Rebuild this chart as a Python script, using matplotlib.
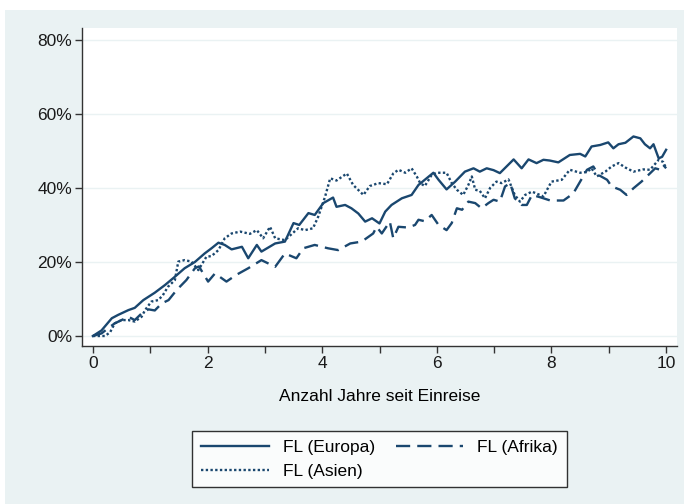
import matplotlib.pyplot as plt
from matplotlib.patches import Rectangle
from matplotlib.ticker import FuncFormatter

# Anteil (in %) nach Jahren seit Einreise
europa_x = [0, 0.15, 0.33, 0.44, 0.62, 0.73, 0.88, 1.08, 1.26, 1.43, 1.6, 1.78,
            1.95, 2.07, 2.19, 2.3, 2.42, 2.6, 2.71, 2.86, 2.94, 3.18, 3.35, 3.5,
            3.6, 3.76, 3.87, 4.02, 4.19, 4.25, 4.4, 4.51, 4.63, 4.75, 4.87, 5.0,
            5.1, 5.21, 5.39, 5.56, 5.68, 5.94, 6.03, 6.17, 6.32, 6.49, 6.64, 6.75,
            6.87, 6.99, 7.1, 7.34, 7.48, 7.6, 7.74, 7.86, 7.97, 8.12, 8.32, 8.5,
            8.59, 8.7, 8.85, 8.99, 9.08, 9.17, 9.29, 9.43, 9.55, 9.63, 9.72, 9.78,
            9.87, 9.93, 10.0]
europa_y = [0, 1.5, 4.8, 5.7, 7.0, 7.6, 9.7, 11.7, 13.8, 16.0, 18.3, 20.0,
            22.3, 23.7, 25.2, 24.6, 23.4, 24.1, 21.0, 24.6, 22.8, 25.0, 25.5, 30.5,
            30.0, 33.2, 32.7, 35.9, 37.4, 34.9, 35.4, 34.5, 33.1, 30.9, 31.8, 30.4,
            33.6, 35.4, 37.2, 38.1, 40.8, 44.1, 42.2, 39.6, 41.7, 44.4, 45.3, 44.4,
            45.3, 44.8, 44.0, 47.7, 45.3, 47.7, 46.7, 47.6, 47.4, 46.9, 48.9, 49.2,
            48.5, 51.2, 51.6, 52.3, 50.7, 51.8, 52.2, 53.9, 53.4, 51.8, 50.7, 51.8,
            48.0, 48.4, 50.3]

afrika_x = [0, 0.15, 0.3, 0.38, 0.62, 0.73, 0.85, 0.97, 1.08, 1.2, 1.32, 1.46,
            1.63, 1.78, 1.85, 2.01, 2.13, 2.33, 2.5, 2.71, 2.94, 3.18, 3.35, 3.55,
            3.67, 3.87, 4.1, 4.28, 4.49, 4.69, 4.89, 4.95, 5.04, 5.18, 5.24, 5.33,
            5.5, 5.62, 5.68, 5.79, 5.91, 6.03, 6.17, 6.26, 6.35, 6.44, 6.55, 6.67,
            6.78, 6.9, 6.99, 7.1, 7.19, 7.28, 7.36, 7.48, 7.57, 7.66, 7.8, 7.98,
            8.21, 8.38, 8.5, 8.62, 8.73, 8.82, 8.97, 9.05, 9.2, 9.31, 9.43, 9.57,
            9.69, 9.81, 9.9, 9.95, 10.0]
afrika_y = [0, 0.7, 2.5, 3.4, 5.2, 4.3, 6.1, 7.2, 6.9, 8.8, 9.7, 12.4,
            15.1, 18.3, 18.8, 14.7, 16.9, 14.7, 16.5, 18.3, 20.5, 18.7, 22.3, 21.0,
            23.7, 24.6, 23.7, 23.2, 25.0, 25.5, 27.7, 29.5, 27.7, 30.9, 26.4, 29.5,
            29.3, 30.0, 31.4, 31.0, 32.7, 30.0, 28.6, 30.5, 34.5, 34.1, 36.3, 35.9,
            34.5, 35.9, 36.8, 36.3, 40.4, 41.3, 37.2, 35.4, 35.4, 38.1, 37.5, 36.6,
            36.6, 38.5, 41.7, 44.9, 45.8, 43.5, 42.2, 40.4, 39.5, 38.1, 39.9, 41.7,
            43.5, 45.3, 44.9, 46.2, 45.3]

asien_x = [0, 0.21, 0.3, 0.38, 0.5, 0.62, 0.73, 0.85, 0.91, 1.02, 1.14, 1.22,
           1.31, 1.43, 1.49, 1.6, 1.72, 1.84, 1.98, 2.07, 2.19, 2.3, 2.42, 2.57,
           2.74, 2.86, 2.97, 3.09, 3.18, 3.35, 3.58, 3.7, 3.84, 3.93, 4.05, 4.14,
           4.25, 4.43, 4.54, 4.72, 4.83, 4.98, 5.13, 5.24, 5.33, 5.45, 5.56, 5.65,
           5.71, 5.79, 5.91, 6.0, 6.17, 6.26, 6.35, 6.46, 6.55, 6.61, 6.67, 6.75,
           6.84, 6.93, 7.04, 7.13, 7.25, 7.36, 7.45, 7.54, 7.66, 7.86, 8.0, 8.18,
           8.32, 8.5, 8.62, 8.7, 8.79, 8.94, 9.05, 9.17, 9.29, 9.43, 9.6, 9.72,
           9.87, 9.95, 10.0]
asien_y = [0, 0, 1.0, 3.4, 4.3, 4.3, 3.9, 5.2, 7.0, 9.3, 9.7, 11.0,
           13.3, 15.1, 20.1, 20.5, 20.1, 17.8, 21.4, 21.6, 23.2, 26.4, 27.7, 28.2,
           27.6, 28.6, 26.4, 29.5, 26.4, 25.9, 29.1, 28.6, 29.1, 32.2, 37.6, 42.6,
           42.0, 43.9, 40.8, 38.1, 40.5, 41.3, 41.0, 43.9, 44.9, 44.1, 45.3, 43.1,
           41.3, 40.5, 43.5, 44.1, 44.1, 41.3, 39.5, 38.1, 40.8, 43.1, 39.5, 39.2,
           37.2, 40.0, 41.7, 41.3, 42.3, 38.1, 36.3, 38.1, 39.0, 37.7, 41.7, 42.2,
           44.9, 44.1, 44.3, 45.3, 43.1, 44.4, 45.8, 46.7, 45.5, 44.4, 45.0, 44.9,
           47.6, 47.0, 45.3]

y_ticks = [0, 20, 40, 60, 80]
x_ticks = list(range(0, 11))
x_labels = ['0', '', '2', '', '4', '', '6', '', '8', '', '10']

line_col = '#1A476F'
bg_col = '#EAF2F3'
fs = 12.5

plt.rcParams['font.family'] = ['Liberation Sans', 'DejaVu Sans']

fig = plt.figure(figsize=(6.84, 5.04), dpi=100, facecolor='white')
# hellgrauer Hintergrund wie im Stata-Schema, hinter den Achsen
bg = Rectangle((5 / 684, 0), 679 / 684, 494 / 504, transform=fig.transFigure,
               facecolor=bg_col, edgecolor='none', zorder=-10)
fig.add_artist(bg)

ax = fig.add_axes([82 / 684, 1 - 346 / 504, 595 / 684, 318 / 504])
ax.set_zorder(1)
ax.set_facecolor('white')

h_eu, = ax.plot(europa_x, europa_y, color=line_col, lw=1.7, ls='-', label='FL (Europa)')
h_af, = ax.plot(afrika_x, afrika_y, color=line_col, lw=1.7, ls=(0, (6, 3)), label='FL (Afrika)')
h_as, = ax.plot(asien_x, asien_y, color=line_col, lw=1.7, ls=(0, (1, 1)), label='FL (Asien)')

ax.set_xlim(-0.19, 10.19)
ax.set_ylim(-2.7, 83.2)
ax.set_yticks(y_ticks)
ax.yaxis.set_major_formatter(FuncFormatter(lambda v, p: f'{v:.0f}%'))
ax.set_xticks(x_ticks)
ax.set_xticklabels(x_labels)
ax.grid(axis='y', color=bg_col, lw=1.0)
ax.set_axisbelow(True)

for s in ['top', 'right']:
    ax.spines[s].set_visible(False)
for s in ['left', 'bottom']:
    ax.spines[s].set_color('#333333')
    ax.spines[s].set_linewidth(1.0)

ax.tick_params(direction='out', length=5, width=1, color='#333333',
               labelsize=fs, labelcolor='#1a1a1a', pad=2)
ax.set_xlabel('Anzahl Jahre seit Einreise', fontsize=fs, labelpad=13)

# Reihenfolge so, dass Zeile 1 Europa/Afrika und Zeile 2 Asien zeigt
leg = ax.legend([h_eu, h_as, h_af], ['FL (Europa)', 'FL (Asien)', 'FL (Afrika)'],
                loc='upper center', bbox_to_anchor=(0.5, -0.24), ncol=2,
                fontsize=fs, frameon=True, fancybox=False, edgecolor='black',
                handlelength=3.9, handletextpad=0.8, columnspacing=1.2,
                borderpad=0.5, labelspacing=0.5)
leg.get_frame().set_linewidth(1.0)

fig.savefig('out.png', dpi=100, facecolor=fig.get_facecolor())
